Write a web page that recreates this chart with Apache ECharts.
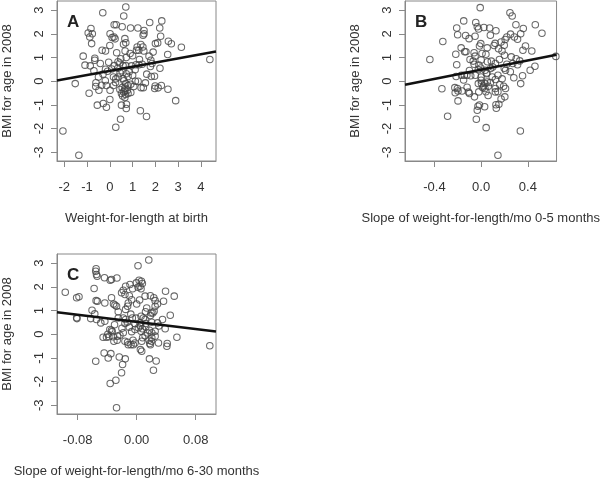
<!DOCTYPE html>
<html><head><meta charset="utf-8">
<script src="https://cdn.jsdelivr.net/npm/echarts@6/dist/echarts.min.js"></script>
<style>html,body{margin:0;padding:0;background:#fff}#c{width:602px;height:480px}</style>
</head><body><div id="c"></div>
<script>
// Panel A: Weight-for-length at birth vs BMI for age in 2008
const pointsA = [[0.70,3.14],[-0.31,2.89],[0.61,2.76],[2.28,2.55],[0.28,2.39],[0.19,2.39],[1.75,2.48],[-0.83,2.23],[0.54,2.30],[0.91,2.25],[1.23,2.25],[2.19,2.25],[1.50,2.14],[1.50,2.01],[1.46,1.94],[-0.95,2.04],[-0.77,2.01],[-0.88,1.87],[0.01,2.01],[0.10,1.85],[0.23,1.79],[0.18,1.87],[0.66,1.80],[2.23,1.90],[-0.80,1.59],[2.00,1.59],[2.10,1.62],[2.57,1.69],[2.70,1.58],[3.14,1.44],[0.00,1.51],[0.60,1.56],[0.70,1.63],[1.20,1.45],[1.36,1.55],[1.45,1.45],[1.17,1.31],[1.27,1.31],[1.49,1.28],[-0.34,1.31],[-0.19,1.28],[0.67,1.28],[1.90,1.23],[0.89,1.17],[2.54,1.13],[1.72,1.06],[-1.17,1.06],[-0.66,0.97],[-0.66,0.89],[0.72,1.00],[-0.42,0.75],[-1.09,0.68],[-0.86,0.65],[0.36,0.82],[0.44,0.77],[0.19,0.66],[0.58,0.66],[0.70,0.66],[0.95,0.65],[1.28,0.70],[1.42,0.72],[1.80,0.89],[1.85,0.75],[4.39,0.92],[2.20,0.55],[-0.70,0.44],[-0.19,0.51],[-0.10,0.42],[0.53,0.44],[1.11,0.49],[-0.50,0.18],[0.16,0.18],[0.26,0.10],[0.58,0.11],[0.36,0.18],[1.12,0.00],[1.24,0.00],[1.82,0.20],[1.96,0.21],[-1.52,-0.10],[-0.61,-0.06],[-0.36,-0.17],[-0.48,-0.38],[-0.15,-0.18],[0.01,-0.38],[0.16,-0.18],[0.70,-0.10],[0.80,-0.18],[0.92,-0.13],[0.54,-0.27],[0.44,-0.35],[0.66,-0.38],[0.77,-0.38],[0.51,-0.52],[0.69,-0.56],[0.80,-0.52],[1.56,-0.07],[1.47,-0.27],[1.37,-0.27],[1.99,-0.20],[1.97,-0.31],[2.12,-0.28],[2.26,-0.18],[2.55,-0.34],[-0.91,-0.51],[0.00,-0.77],[0.66,-0.69],[2.89,-0.82],[-0.55,-1.01],[-0.29,-0.94],[-0.15,-1.10],[0.51,-1.01],[0.72,-1.15],[0.73,-0.97],[1.34,-1.25],[1.61,-1.49],[0.47,-1.61],[0.26,-1.94],[-2.06,-2.10],[-1.36,-3.13],
[0.35,0.55],[0.45,0.35],[0.85,0.40],[1.00,0.25],[0.25,-0.05],[0.62,0.02],[1.05,-0.22],[0.80,0.20],[0.48,0.95],[1.30,0.92],[0.08,0.52],[-0.30,0.30],[-0.62,-0.22],[0.92,-0.48],[1.62,0.30],[0.30,1.20],[1.00,1.08],[1.78,0.62],[-0.20,0.02],[0.72,0.32],[0.60,-0.45],[0.66,-0.30],[0.56,-0.62],[1.15,0.70],[-0.05,0.80]];
// Panel B: slope 0-5 months
const pointsB = [[-0.008,3.11],[0.247,2.89],[0.266,2.76],[-0.149,2.55],[-0.046,2.48],[0.464,2.39],[0.298,2.39],[-0.209,2.25],[-0.033,2.30],[-0.022,2.21],[0.024,2.27],[0.073,2.25],[0.127,2.13],[0.521,2.03],[0.361,2.23],[0.339,2.01],[-0.201,1.96],[-0.133,1.93],[-0.103,1.80],[-0.052,1.90],[0.079,1.94],[-0.328,1.68],[0.252,1.99],[0.285,1.87],[0.220,1.87],[0.206,1.76],[0.171,1.66],[0.198,1.52],[0.312,1.77],[-0.003,1.59],[-0.014,1.49],[0.052,1.41],[-0.171,1.41],[-0.141,1.25],[-0.130,1.25],[0.111,1.51],[0.149,1.37],[0.179,1.28],[0.380,1.49],[0.358,1.31],[0.434,1.28],[-0.217,1.14],[-0.052,1.06],[0.008,1.17],[0.041,1.14],[-0.439,0.92],[-0.095,0.92],[-0.068,0.85],[-0.060,0.72],[0.054,0.82],[0.087,0.85],[0.157,0.92],[0.122,0.75],[0.258,1.03],[0.331,0.86],[0.271,0.75],[0.312,0.70],[-0.209,0.70],[0.461,0.63],[0.420,0.46],[-0.019,0.68],[-0.003,0.56],[-0.024,0.49],[0.035,0.46],[0.081,0.54],[0.198,0.55],[0.209,0.46],[-0.168,0.25],[-0.144,0.25],[-0.122,0.25],[-0.214,0.20],[-0.089,0.23],[0.000,0.18],[0.046,0.32],[0.095,0.18],[0.122,0.07],[0.144,0.25],[0.355,0.23],[0.339,-0.10],[-0.024,-0.10],[0.003,-0.10],[0.033,-0.10],[0.052,-0.03],[0.033,-0.31],[0.014,-0.27],[0.000,0.04],[0.062,-0.21],[0.122,-0.31],[0.193,-0.21],[0.209,-0.31],[-0.336,-0.32],[-0.225,-0.27],[-0.203,-0.31],[-0.222,-0.49],[-0.198,-0.41],[-0.163,-0.41],[-0.108,-0.46],[-0.100,-0.52],[-0.057,-0.66],[0.041,-0.44],[0.122,-0.45],[0.144,-0.44],[0.171,-0.75],[0.203,-0.66],[-0.198,-0.83],[-0.014,-1.00],[-0.027,-1.06],[0.030,-1.08],[0.127,-0.99],[0.152,-0.97],[0.130,-1.14],[-0.033,-1.23],[-0.287,-1.48],[-0.041,-1.61],[0.043,-1.96],[0.336,-2.10],[0.144,-3.13],[0.640,1.05],
[0.05,0.35],[0.10,0.60],[-0.05,0.25],[0.18,0.10],[0.25,0.40],[-0.10,0.45],[0.02,-0.20],[0.08,-0.05],[-0.15,0.05],[0.30,0.95],[0.20,1.10],[0.12,1.60],[-0.06,1.20],[0.22,0.72],[-0.02,-0.45],[0.06,-0.60],[0.16,-0.15],[-0.12,-0.25],[0.28,0.15],[0.00,0.90]];
// Panel C: slope 6-30 months
const pointsC = [[0.0164,3.14],[0.0018,2.89],[-0.0550,2.77],[-0.0555,2.66],[-0.0545,2.52],[-0.0536,2.45],[-0.0436,2.39],[-0.0341,2.31],[-0.0268,2.38],[-0.0359,2.28],[0.0032,2.28],[0.0064,2.24],[0.0077,2.14],[0.0045,2.03],[0.0018,1.99],[0.0059,1.92],[-0.0005,2.17],[-0.0091,2.10],[-0.0150,2.03],[-0.0055,1.92],[-0.0182,1.86],[-0.0205,1.75],[-0.0159,1.68],[-0.0100,1.63],[-0.0968,1.77],[-0.0814,1.54],[-0.0782,1.58],[-0.0577,1.93],[-0.0550,1.42],[-0.0532,1.39],[-0.0432,1.32],[-0.0341,1.54],[-0.0314,1.28],[-0.0273,1.18],[-0.0295,1.23],[-0.0114,1.32],[-0.0068,1.46],[-0.0123,1.18],[0.0000,1.28],[0.0114,1.61],[0.0186,1.63],[0.0232,1.54],[0.0250,1.42],[0.0282,1.28],[0.0364,1.39],[0.0509,1.61],[0.0391,1.82],[0.0136,1.11],[0.0250,1.18],[0.0236,0.97],[0.0195,0.90],[0.0186,0.79],[0.0218,0.90],[0.0455,0.80],[-0.0605,1.01],[-0.0568,0.86],[-0.0814,0.70],[-0.0809,0.66],[-0.0623,0.66],[-0.0545,0.62],[-0.0486,0.48],[-0.0432,0.55],[-0.0250,0.69],[-0.0182,0.69],[-0.0150,0.62],[-0.0127,0.51],[-0.0159,0.45],[-0.0059,0.69],[-0.0009,0.68],[0.0059,0.76],[0.0091,0.69],[0.0114,0.62],[-0.0023,0.44],[0.0045,0.48],[0.0123,0.45],[0.0205,0.51],[0.0282,0.48],[0.0023,0.27],[0.0077,0.23],[0.0123,0.31],[0.0173,0.17],[0.0250,0.13],[0.0386,0.23],[-0.0364,0.20],[-0.0341,0.17],[-0.0332,0.11],[-0.0391,0.00],[-0.0377,-0.11],[-0.0455,-0.13],[-0.0409,-0.13],[-0.0318,-0.11],[-0.0259,-0.08],[-0.0227,-0.04],[-0.0182,0.06],[-0.0068,0.11],[-0.0023,0.20],[0.0059,0.13],[0.0205,0.06],[0.0250,-0.08],[0.0114,-0.06],[0.0205,-0.15],[-0.0309,-0.30],[-0.0264,-0.25],[-0.0159,-0.30],[-0.0123,-0.34],[-0.0114,-0.44],[-0.0077,-0.44],[-0.0045,-0.44],[-0.0023,-0.37],[0.0068,-0.30],[0.0168,-0.25],[0.0177,-0.39],[0.0186,-0.44],[0.0295,-0.37],[0.0414,-0.39],[0.0409,-0.51],[0.0545,-0.13],[0.0050,-0.65],[0.0068,-0.72],[0.0991,-0.49],[-0.0441,-0.79],[-0.0386,-1.00],[-0.0350,-0.82],[-0.0236,-0.96],[-0.0155,-1.04],[-0.0555,-1.14],[0.0173,-1.04],[0.0264,-1.13],[0.0227,-1.52],[-0.0191,-1.28],[-0.0205,-1.63],[-0.0359,-2.08],[-0.0282,-1.94],[-0.0273,-3.11],
[0.005,0.35],[-0.010,0.30],[0.015,0.05],[-0.020,0.25],[0.008,-0.15],[-0.005,-0.25],[0.030,0.35],[-0.030,0.40],[0.012,0.95],[-0.015,1.05],[0.020,-0.30],[-0.008,0.85],[0.004,1.45],[-0.025,0.95],[0.035,0.62]];

// fitted regression lines: [intercept, slope]
const fitA = [0.44, 0.176];
const fitB = [0.49, 0.976];
const fitC = [0.52, -3.79];

// axis ranges and tick labels
const rangeA = [-2.32, 4.66], ticksA = [-2, -1, 0, 1, 2, 3, 4];
const rangeB = [-0.652, 0.646], ticksB = [-0.4, 0.0, 0.4];
const rangeC = [-0.108, 0.1075], ticksC = [-0.08, 0.00, 0.08];
const rangeY = [-3.37, 3.39], ticksY = [-3, -2, -1, 0, 1, 2, 3];

const xTitles = ['Weight-for-length at birth', 'Slope of weight-for-length/mo 0-5 months', 'Slope of weight-for-length/mo 6-30 months'];
const yTitle = 'BMI for age in 2008';
const panelLetters = ['A', 'B', 'C'];

const FONT = "'Liberation Sans', Arial, sans-serif";
const TXT = '#333';
const AX = '#888';

const grids = [
  {left: 57, top: 1, width: 159, height: 160},
  {left: 405, top: 1, width: 159, height: 160},
  {left: 57, top: 254, width: 159, height: 160}
];
const panels = [
  {pts: pointsA, fit: fitA, range: rangeA, ticks: ticksA, dec: 0},
  {pts: pointsB, fit: fitB, range: rangeB, ticks: ticksB, dec: 1},
  {pts: pointsC, fit: fitC, range: rangeC, ticks: ticksC, dec: 2}
];

const xAxis = [], yAxis = [], series = [], titles = [];
panels.forEach((p, i) => {
  xAxis.push({
    type: 'value', gridIndex: i, min: p.range[0], max: p.range[1],
    name: xTitles[i], nameLocation: 'middle', nameGap: 51,
    nameTextStyle: {fontFamily: FONT, fontSize: 13, color: TXT},
    splitLine: {show: false},
    axisLine: {show: true, onZero: false, lineStyle: {color: AX}},
    axisTick: {show: true, length: 6, lineStyle: {color: AX}, customValues: p.ticks},
    axisLabel: {show: true, margin: 20, fontFamily: FONT, fontSize: 13, color: TXT,
      customValues: p.ticks, formatter: v => Number(v).toFixed(p.dec)}
  });
  yAxis.push({
    type: 'value', gridIndex: i, min: rangeY[0], max: rangeY[1],
    name: yTitle, nameLocation: 'middle', nameGap: 43,
    nameTextStyle: {fontFamily: FONT, fontSize: 13, color: TXT},
    splitLine: {show: false},
    axisLine: {show: true, onZero: false, lineStyle: {color: AX}},
    axisTick: {show: true, length: 6, lineStyle: {color: AX}, customValues: ticksY},
    axisLabel: {show: true, rotate: 90, margin: 11, fontFamily: FONT, fontSize: 13, color: TXT,
      customValues: ticksY, formatter: v => String(Math.round(v))}
  });
  series.push({
    type: 'scatter', xAxisIndex: i, yAxisIndex: i, data: p.pts,
    symbol: 'circle', symbolSize: 6.5, silent: true,
    itemStyle: {color: 'rgba(255,255,255,0)', borderColor: '#444', borderWidth: 1.05}
  });
  const x0 = p.range[0], x1 = p.range[1];
  series.push({
    type: 'line', xAxisIndex: i, yAxisIndex: i, symbol: 'none', silent: true, z: 5,
    data: [[x0, p.fit[0] + p.fit[1] * x0], [x1, p.fit[0] + p.fit[1] * x1]],
    lineStyle: {color: '#111', width: 2.5}
  });
  titles.push({
    text: panelLetters[i], left: grids[i].left + 5, top: grids[i].top + 8,
    textStyle: {fontFamily: FONT, fontSize: 17, fontWeight: 'bold', color: '#222'}
  });
});

const chart = echarts.init(document.getElementById('c'), null, {renderer: 'canvas'});
chart.setOption({
  animation: false,
  backgroundColor: '#fff',
  title: titles,
  grid: grids.map(g => Object.assign({show: true, borderColor: AX, borderWidth: 1, backgroundColor: 'transparent'}, g)),
  xAxis, yAxis, series
});
</script></body></html>
